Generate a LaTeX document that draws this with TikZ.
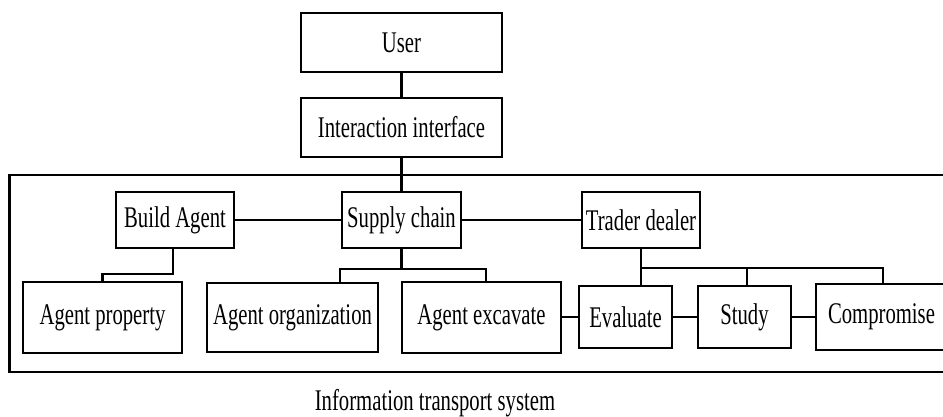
\documentclass[tikz,border=0pt]{standalone}
\usepackage{fontspec}
\setmainfont{Liberation Serif}[FakeStretch=0.69]
\begin{document}
\begin{tikzpicture}[x=1pt,y=-1pt,
  box/.style={draw=black,line width=2.6pt,inner sep=0pt,
    font=\fontsize{30}{36}\selectfont},
  link/.style={draw=black,line width=2.2pt}]
\useasboundingbox (0,0) rectangle (943,417);

% outer system frame (runs past the right edge)
\draw[line width=2.6pt] (9.5,175) rectangle (960,372);

% top chain
\node[box,minimum width=201pt,minimum height=59pt] (user) at (401.5,42.5) {User};
\node[box,minimum width=201pt,minimum height=59pt] (ui) at (401.5,127.5) {Interaction interface};

% middle row
\node[box,minimum width=118pt,minimum height=56pt] (ba) at (175,220) {Build Agent};
\node[box,minimum width=119pt,minimum height=56pt] (sc) at (401.5,220) {Supply chain};
\node[box,minimum width=118pt,minimum height=56pt] (td) at (641,220) {Trader dealer};

% bottom row
\node[box,minimum width=159pt,minimum height=71pt] (ap) at (102.5,317.5) {Agent property};
\node[box,minimum width=171pt,minimum height=69pt] (ao) at (292.5,317.5) {Agent organization};
\node[box,minimum width=159pt,minimum height=71pt] (ae) at (481.5,317.5) {Agent excavate};
\node[box,minimum width=93pt,minimum height=62pt] (ev) at (625.5,317) {Evaluate};
\node[box,minimum width=93pt,minimum height=62pt] (st) at (744.5,317) {Study};
\node[box,minimum width=131pt,minimum height=66pt] (cp) at (881.5,317) {Compromise};

% caption
\node[inner sep=0pt,font=\fontsize{30}{36}\selectfont] (cap) at (435,403) {Information transport system};

% vertical spine
\draw[link] (user.south) -- (ui.north);
\draw[link] (ui.south) -- (sc.north);

% middle row links
\draw[link] (ba.east) -- (sc.west);
\draw[link] (sc.east) -- (td.west);

% Build Agent branch
\draw[link] ([xshift=-2pt]ba.south) -- ++(0,25) -| (ap.north);

% Supply chain branch
\draw[link] (sc.south) -- ++(0,20) coordinate (sj);
\draw[link] (sj) -| ([xshift=47.5pt]ao.north);
\draw[link] (sj) -| ([xshift=4.5pt]ae.north);

% Trader dealer branch
\draw[link] (td.south) -- (td.south |- ev.north);
\draw[link] ([yshift=-19pt]td.south) coordinate (tj) -| ([xshift=1.5pt]cp.north);
\draw[link] ([xshift=2.5pt]st.north) -- ([xshift=2.5pt]st.north |- tj);

% bottom row links
\draw[link] (ae.east |- ev.west) -- (ev.west);
\draw[link] (ev.east) -- (st.west);
\draw[link] (st.east) -- (cp.west);
\end{tikzpicture}
\end{document}
